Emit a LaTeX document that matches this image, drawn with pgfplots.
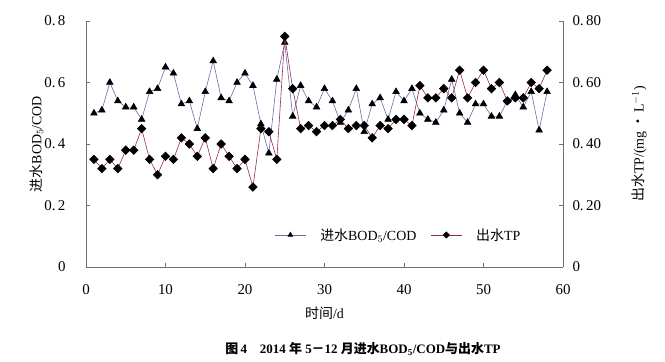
\documentclass[border=0pt]{standalone}
\usepackage{fontspec}
\setmainfont{Liberation Serif}
\newfontfamily\cjk{Noto Sans CJK SC}
\usepackage{pgfplots}
\pgfplotsset{compat=1.18}
\usepackage{pgfplotstable}
\definecolor{bodc}{HTML}{6A6AAE}
\definecolor{tpc}{HTML}{9A2A52}
\definecolor{axc}{HTML}{707070}
\pgfplotstableread{
d v
1 0.50
2 0.51
3 0.60
4 0.54
5 0.52
6 0.52
7 0.48
8 0.57
9 0.58
10 0.65
11 0.63
12 0.53
13 0.54
14 0.45
15 0.57
16 0.67
17 0.55
18 0.54
19 0.60
20 0.63
21 0.59
22 0.465
23 0.37
24 0.61
25 0.73
26 0.49
27 0.59
28 0.54
29 0.52
30 0.58
31 0.54
32 0.47
33 0.51
34 0.58
35 0.44
36 0.53
37 0.55
38 0.48
39 0.57
40 0.54
41 0.58
42 0.50
43 0.48
44 0.47
45 0.51
46 0.61
47 0.50
48 0.47
49 0.53
50 0.53
51 0.49
52 0.49
53 0.54
54 0.56
55 0.52
56 0.57
57 0.445
58 0.57
}\bodtable
\pgfplotstableread{
d v
1 0.35
2 0.32
3 0.35
4 0.32
5 0.38
6 0.38
7 0.45
8 0.35
9 0.30
10 0.36
11 0.35
12 0.42
13 0.40
14 0.36
15 0.42
16 0.32
17 0.40
18 0.36
19 0.32
20 0.35
21 0.26
22 0.45
23 0.44
24 0.35
25 0.75
26 0.58
27 0.45
28 0.46
29 0.44
30 0.46
31 0.46
32 0.48
33 0.45
34 0.46
35 0.46
36 0.42
37 0.46
38 0.45
39 0.48
40 0.48
41 0.46
42 0.59
43 0.55
44 0.55
45 0.58
46 0.55
47 0.64
48 0.55
49 0.60
50 0.64
51 0.58
52 0.60
53 0.54
54 0.55
55 0.55
56 0.60
57 0.58
58 0.64
}\tptable
\begin{document}
\begin{tikzpicture}
\useasboundingbox (-86bp,-95bp) rectangle (579bp,267bp);
\pgfplotsset{
  every axis/.append style={
    scale only axis, width=477bp, height=246bp,
    xmin=0, xmax=60, ymin=0, ymax=0.8,
    axis line style={axc, line width=0.6pt},
    tick style={axc, line width=0.6pt},
    tick align=inside,
    major tick length=4bp,
    tick label style={font=\fontsize{15}{17}\selectfont, black},
    /pgf/number format/assume math mode=true,
    label style={font=\fontsize{14}{16}\selectfont},
  }
}
\begin{axis}[
  at={(0,0)}, anchor=south west,
  axis x line*=bottom, axis y line*=left,
  xtick={0,10,...,60},
  ytick={0,0.2,0.4,0.6,0.8},
  yticklabels={0,0.\,2,0.\,4,0.\,6,0.\,8},
  xticklabel style={yshift=-14bp},
  yticklabel style={xshift=-17bp},
  xlabel={{\cjk 时间}/d},
  xlabel style={yshift=-5bp},
  ylabel={{\cjk 进水}BOD$_5$/COD},
  ylabel style={yshift=-6bp},
]
\addplot[color=bodc, line width=0.6pt, mark=triangle*, mark size=3.8bp, mark options={black, fill=black}] table[x=d,y=v] {\bodtable};
\end{axis}
\begin{axis}[
  at={(0,0)}, anchor=south west,
  axis x line=none, axis y line*=right,
  ytick={0,0.2,0.4,0.6,0.8},
  yticklabels={0,0.\,20,0.\,40,0.\,60,0.\,80},
  yticklabel style={xshift=6bp},
  ylabel={{\cjk 出水}TP/(mg\,{\cjk ·}\,L$^{-1}$)},
  ylabel style={rotate=0, yshift=-24bp},
  legend columns=2,
  legend style={draw=none, fill=none, at={(0.655,0.13)}, anchor=center,
    font=\fontsize{14}{16}\selectfont, column sep=12bp},
  legend image code/.code={\draw[mark repeat=2,mark phase=2,#1] plot coordinates {(0cm,0cm)(0.55cm,0cm)(1.1cm,0cm)};},
]
\addlegendimage{color=bodc, line width=0.6pt, mark=triangle*, mark size=2.8bp, mark options={black, fill=black}}
\addlegendentry{{\cjk 进水}BOD$_5$/COD}
\addplot[color=tpc, line width=0.6pt, mark=square*, mark size=3bp, mark options={black, fill=black, rotate=45}, forget plot] table[x=d,y=v] {\tptable};
\addlegendimage{color=tpc, line width=0.6pt, mark=square*, mark size=2.2bp, mark options={black, fill=black, rotate=45}}
\addlegendentry{{\cjk 出水}TP}
\end{axis}
\node[font=\fontsize{13}{15}\selectfont\bfseries] at (277bp,-82bp) {{\cjk 图}\,4\quad 2014 {\cjk 年} 5{\cjk －}12 {\cjk 月进水}BOD$_{\mathbf 5}$/COD{\cjk 与出水}TP};
\end{tikzpicture}
\end{document}
